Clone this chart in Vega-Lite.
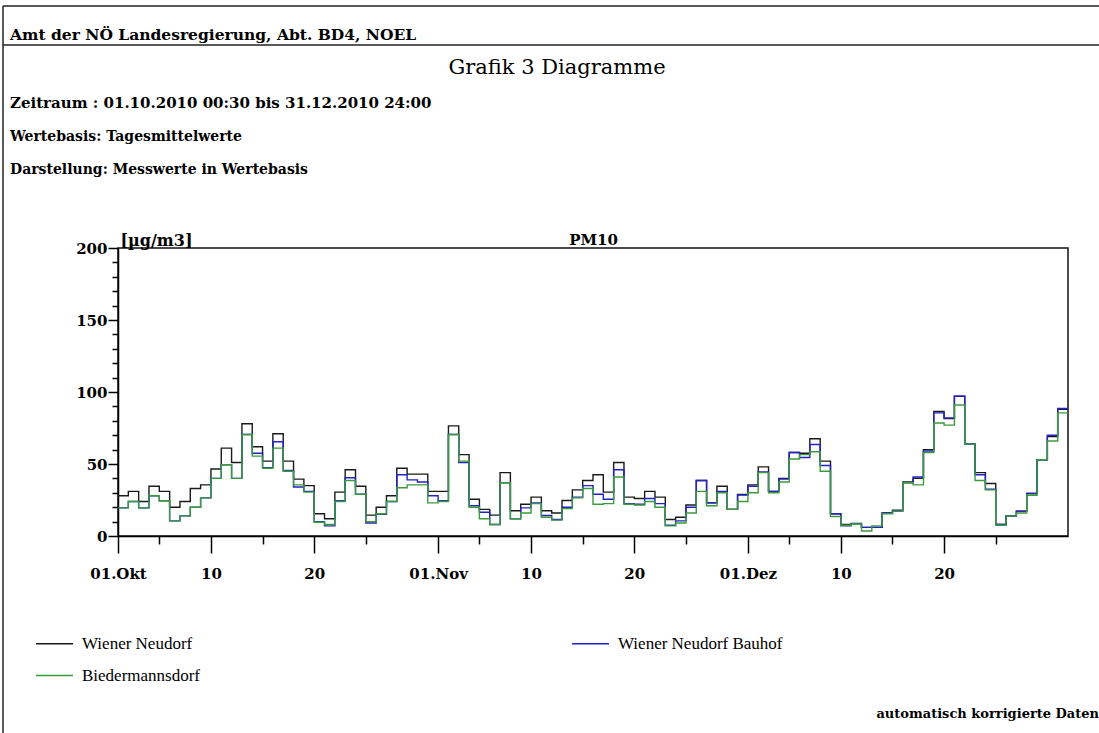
{
  "$schema": "https://vega.github.io/schema/vega-lite/v6.json",
  "width": 950,
  "height": 288,
  "autosize": {"type": "none"},
  "padding": {"left": 118, "top": 248, "right": 31, "bottom": 197},
  "background": "white",
  "config": {
    "view": {"stroke": "#111111", "strokeWidth": 1.5},
    "font": "DejaVu Serif",
    "axis": {"grid": false, "labelColor": "black", "titleColor": "black", "tickColor": "black", "domainColor": "black"}
  },
  "layer": [
    {
      "data": {"values": [{}]},
      "mark": {"type": "rule", "color": "#222222", "strokeWidth": 1.5},
      "encoding": {"x": {"value": -115}, "x2": {"value": 981}, "y": {"value": -242}}
    },
    {
      "data": {"values": [{}]},
      "mark": {"type": "rule", "color": "#222222", "strokeWidth": 1.5},
      "encoding": {"x": {"value": -115}, "y": {"value": -242}, "y2": {"value": 485}}
    },
    {
      "data": {"values": [{}]},
      "mark": {"type": "rule", "color": "#222222", "strokeWidth": 1.5},
      "encoding": {"x": {"value": -115}, "x2": {"value": 981}, "y": {"value": -203}}
    },
    {
      "data": {"values": [{}]},
      "mark": {"type": "text", "text": "Amt der NÖ Landesregierung, Abt. BD4, NOEL", "x": -108, "y": -208, "align": "left", "baseline": "alphabetic", "font": "DejaVu Serif", "fontSize": 15.5, "fontWeight": "bold", "color": "black"},
      "encoding": {}
    },
    {
      "data": {"values": [{}]},
      "mark": {"type": "text", "text": "Grafik 3 Diagramme", "x": 439, "y": -174, "align": "center", "baseline": "alphabetic", "font": "DejaVu Serif", "fontSize": 21, "color": "black"},
      "encoding": {}
    },
    {
      "data": {"values": [{}]},
      "mark": {"type": "text", "text": "Zeitraum  : 01.10.2010 00:30 bis 31.12.2010 24:00", "x": -108, "y": -140, "align": "left", "baseline": "alphabetic", "font": "DejaVu Serif", "fontSize": 15, "fontWeight": "bold", "color": "black"},
      "encoding": {}
    },
    {
      "data": {"values": [{}]},
      "mark": {"type": "text", "text": "Wertebasis: Tagesmittelwerte", "x": -108, "y": -107, "align": "left", "baseline": "alphabetic", "font": "DejaVu Serif", "fontSize": 14, "fontWeight": "bold", "color": "black"},
      "encoding": {}
    },
    {
      "data": {"values": [{}]},
      "mark": {"type": "text", "text": "Darstellung: Messwerte in Wertebasis", "x": -108, "y": -74, "align": "left", "baseline": "alphabetic", "font": "DejaVu Serif", "fontSize": 14, "fontWeight": "bold", "color": "black"},
      "encoding": {}
    },
    {
      "data": {"values": [{}]},
      "mark": {"type": "text", "text": "automatisch korrigierte Daten", "x": 981, "y": 470, "align": "right", "baseline": "alphabetic", "font": "DejaVu Serif", "fontSize": 13, "fontWeight": "bold", "color": "black"},
      "encoding": {}
    },
    {
      "data": {
        "format": {"parse": {"von": "utc:'%Y-%m-%d'", "bis": "utc:'%Y-%m-%d'"}},
        "values": [
          {"von": "2010-10-01", "bis": "2010-10-02", "Wiener Neudorf": 28, "Wiener Neudorf Bauhof": 19.5, "Biedermannsdorf": 19.5},
          {"von": "2010-10-02", "bis": "2010-10-03", "Wiener Neudorf": 31, "Wiener Neudorf Bauhof": 24, "Biedermannsdorf": 24},
          {"von": "2010-10-03", "bis": "2010-10-04", "Wiener Neudorf": 24, "Wiener Neudorf Bauhof": 19.5, "Biedermannsdorf": 19.5},
          {"von": "2010-10-04", "bis": "2010-10-05", "Wiener Neudorf": 34.5, "Wiener Neudorf Bauhof": 28, "Biedermannsdorf": 28},
          {"von": "2010-10-05", "bis": "2010-10-06", "Wiener Neudorf": 31, "Wiener Neudorf Bauhof": 24.5, "Biedermannsdorf": 24.5},
          {"von": "2010-10-06", "bis": "2010-10-07", "Wiener Neudorf": 20, "Wiener Neudorf Bauhof": 10.5, "Biedermannsdorf": 10.5},
          {"von": "2010-10-07", "bis": "2010-10-08", "Wiener Neudorf": 24, "Wiener Neudorf Bauhof": 14, "Biedermannsdorf": 14},
          {"von": "2010-10-08", "bis": "2010-10-09", "Wiener Neudorf": 33, "Wiener Neudorf Bauhof": 20, "Biedermannsdorf": 20},
          {"von": "2010-10-09", "bis": "2010-10-10", "Wiener Neudorf": 35.5, "Wiener Neudorf Bauhof": 26.5, "Biedermannsdorf": 26.5},
          {"von": "2010-10-10", "bis": "2010-10-11", "Wiener Neudorf": 46.5, "Wiener Neudorf Bauhof": 40, "Biedermannsdorf": 40},
          {"von": "2010-10-11", "bis": "2010-10-12", "Wiener Neudorf": 61, "Wiener Neudorf Bauhof": 49.5, "Biedermannsdorf": 49.5},
          {"von": "2010-10-12", "bis": "2010-10-13", "Wiener Neudorf": 51, "Wiener Neudorf Bauhof": 40, "Biedermannsdorf": 40},
          {"von": "2010-10-13", "bis": "2010-10-14", "Wiener Neudorf": 78, "Wiener Neudorf Bauhof": 70.5, "Biedermannsdorf": 70.5},
          {"von": "2010-10-14", "bis": "2010-10-15", "Wiener Neudorf": 62, "Wiener Neudorf Bauhof": 57.5, "Biedermannsdorf": 55.5},
          {"von": "2010-10-15", "bis": "2010-10-16", "Wiener Neudorf": 52, "Wiener Neudorf Bauhof": 47.5, "Biedermannsdorf": 47},
          {"von": "2010-10-16", "bis": "2010-10-17", "Wiener Neudorf": 71, "Wiener Neudorf Bauhof": 65.5, "Biedermannsdorf": 61},
          {"von": "2010-10-17", "bis": "2010-10-18", "Wiener Neudorf": 52, "Wiener Neudorf Bauhof": 45.5, "Biedermannsdorf": 45},
          {"von": "2010-10-18", "bis": "2010-10-19", "Wiener Neudorf": 39.5, "Wiener Neudorf Bauhof": 34, "Biedermannsdorf": 35.5},
          {"von": "2010-10-19", "bis": "2010-10-20", "Wiener Neudorf": 35, "Wiener Neudorf Bauhof": 31, "Biedermannsdorf": 30.5},
          {"von": "2010-10-20", "bis": "2010-10-21", "Wiener Neudorf": 15.5, "Wiener Neudorf Bauhof": 10, "Biedermannsdorf": 9.5},
          {"von": "2010-10-21", "bis": "2010-10-22", "Wiener Neudorf": 12, "Wiener Neudorf Bauhof": 7, "Biedermannsdorf": 8},
          {"von": "2010-10-22", "bis": "2010-10-23", "Wiener Neudorf": 30.5, "Wiener Neudorf Bauhof": 24.5, "Biedermannsdorf": 24},
          {"von": "2010-10-23", "bis": "2010-10-24", "Wiener Neudorf": 46, "Wiener Neudorf Bauhof": 40.5, "Biedermannsdorf": 38.5},
          {"von": "2010-10-24", "bis": "2010-10-25", "Wiener Neudorf": 34.5, "Wiener Neudorf Bauhof": 29, "Biedermannsdorf": 29},
          {"von": "2010-10-25", "bis": "2010-10-26", "Wiener Neudorf": 14.5, "Wiener Neudorf Bauhof": 9, "Biedermannsdorf": 10},
          {"von": "2010-10-26", "bis": "2010-10-27", "Wiener Neudorf": 20, "Wiener Neudorf Bauhof": 15, "Biedermannsdorf": 15.5},
          {"von": "2010-10-27", "bis": "2010-10-28", "Wiener Neudorf": 28, "Wiener Neudorf Bauhof": 24, "Biedermannsdorf": 24},
          {"von": "2010-10-28", "bis": "2010-10-29", "Wiener Neudorf": 47, "Wiener Neudorf Bauhof": 42.5, "Biedermannsdorf": 33.5},
          {"von": "2010-10-29", "bis": "2010-10-30", "Wiener Neudorf": 43, "Wiener Neudorf Bauhof": 39, "Biedermannsdorf": 35.5},
          {"von": "2010-10-30", "bis": "2010-10-31", "Wiener Neudorf": 43, "Wiener Neudorf Bauhof": 37.5, "Biedermannsdorf": 35.5},
          {"von": "2010-10-31", "bis": "2010-11-01", "Wiener Neudorf": 31, "Wiener Neudorf Bauhof": 28, "Biedermannsdorf": 23},
          {"von": "2010-11-01", "bis": "2010-11-02", "Wiener Neudorf": 31, "Wiener Neudorf Bauhof": 24.5, "Biedermannsdorf": 24},
          {"von": "2010-11-02", "bis": "2010-11-03", "Wiener Neudorf": 76.5, "Wiener Neudorf Bauhof": 70.5, "Biedermannsdorf": 70.5},
          {"von": "2010-11-03", "bis": "2010-11-04", "Wiener Neudorf": 56.5, "Wiener Neudorf Bauhof": 51, "Biedermannsdorf": 52},
          {"von": "2010-11-04", "bis": "2010-11-05", "Wiener Neudorf": 25.5, "Wiener Neudorf Bauhof": 21, "Biedermannsdorf": 20},
          {"von": "2010-11-05", "bis": "2010-11-06", "Wiener Neudorf": 18.5, "Wiener Neudorf Bauhof": 16.5, "Biedermannsdorf": 12},
          {"von": "2010-11-06", "bis": "2010-11-07", "Wiener Neudorf": 14.5, "Wiener Neudorf Bauhof": 8, "Biedermannsdorf": 8},
          {"von": "2010-11-07", "bis": "2010-11-08", "Wiener Neudorf": 44, "Wiener Neudorf Bauhof": 37, "Biedermannsdorf": 37},
          {"von": "2010-11-08", "bis": "2010-11-09", "Wiener Neudorf": 17.5, "Wiener Neudorf Bauhof": 12, "Biedermannsdorf": 12},
          {"von": "2010-11-09", "bis": "2010-11-10", "Wiener Neudorf": 22, "Wiener Neudorf Bauhof": 19.5, "Biedermannsdorf": 16},
          {"von": "2010-11-10", "bis": "2010-11-11", "Wiener Neudorf": 27, "Wiener Neudorf Bauhof": 23, "Biedermannsdorf": 22.5},
          {"von": "2010-11-11", "bis": "2010-11-12", "Wiener Neudorf": 17.5, "Wiener Neudorf Bauhof": 14.2, "Biedermannsdorf": 13},
          {"von": "2010-11-12", "bis": "2010-11-13", "Wiener Neudorf": 16, "Wiener Neudorf Bauhof": 11.5, "Biedermannsdorf": 11},
          {"von": "2010-11-13", "bis": "2010-11-14", "Wiener Neudorf": 24.7, "Wiener Neudorf Bauhof": 20, "Biedermannsdorf": 19},
          {"von": "2010-11-14", "bis": "2010-11-15", "Wiener Neudorf": 32, "Wiener Neudorf Bauhof": 27, "Biedermannsdorf": 26.5},
          {"von": "2010-11-15", "bis": "2010-11-16", "Wiener Neudorf": 38.5, "Wiener Neudorf Bauhof": 35, "Biedermannsdorf": 33},
          {"von": "2010-11-16", "bis": "2010-11-17", "Wiener Neudorf": 42.5, "Wiener Neudorf Bauhof": 29, "Biedermannsdorf": 22},
          {"von": "2010-11-17", "bis": "2010-11-18", "Wiener Neudorf": 30.5, "Wiener Neudorf Bauhof": 25.5, "Biedermannsdorf": 22.5},
          {"von": "2010-11-18", "bis": "2010-11-19", "Wiener Neudorf": 51, "Wiener Neudorf Bauhof": 46, "Biedermannsdorf": 41},
          {"von": "2010-11-19", "bis": "2010-11-20", "Wiener Neudorf": 27, "Wiener Neudorf Bauhof": 22.5, "Biedermannsdorf": 22},
          {"von": "2010-11-20", "bis": "2010-11-21", "Wiener Neudorf": 26, "Wiener Neudorf Bauhof": 22, "Biedermannsdorf": 21.5},
          {"von": "2010-11-21", "bis": "2010-11-22", "Wiener Neudorf": 31, "Wiener Neudorf Bauhof": 26, "Biedermannsdorf": 24},
          {"von": "2010-11-22", "bis": "2010-11-23", "Wiener Neudorf": 27, "Wiener Neudorf Bauhof": 22.5, "Biedermannsdorf": 20},
          {"von": "2010-11-23", "bis": "2010-11-24", "Wiener Neudorf": 11.5, "Wiener Neudorf Bauhof": 7.5, "Biedermannsdorf": 7},
          {"von": "2010-11-24", "bis": "2010-11-25", "Wiener Neudorf": 13, "Wiener Neudorf Bauhof": 10.5, "Biedermannsdorf": 9},
          {"von": "2010-11-25", "bis": "2010-11-26", "Wiener Neudorf": 21.5, "Wiener Neudorf Bauhof": 20, "Biedermannsdorf": 16},
          {"von": "2010-11-26", "bis": "2010-11-27", "Wiener Neudorf": 38.5, "Wiener Neudorf Bauhof": 38.5, "Biedermannsdorf": 31},
          {"von": "2010-11-27", "bis": "2010-11-28", "Wiener Neudorf": 23, "Wiener Neudorf Bauhof": 23, "Biedermannsdorf": 21},
          {"von": "2010-11-28", "bis": "2010-11-29", "Wiener Neudorf": 34.5, "Wiener Neudorf Bauhof": 31, "Biedermannsdorf": 30},
          {"von": "2010-11-29", "bis": "2010-11-30", "Wiener Neudorf": 18.5, "Wiener Neudorf Bauhof": 18.5, "Biedermannsdorf": 18.5},
          {"von": "2010-11-30", "bis": "2010-12-01", "Wiener Neudorf": 28.8, "Wiener Neudorf Bauhof": 28.5, "Biedermannsdorf": 24},
          {"von": "2010-12-01", "bis": "2010-12-02", "Wiener Neudorf": 35.5, "Wiener Neudorf Bauhof": 34.5, "Biedermannsdorf": 30},
          {"von": "2010-12-02", "bis": "2010-12-03", "Wiener Neudorf": 48, "Wiener Neudorf Bauhof": 44.5, "Biedermannsdorf": 44},
          {"von": "2010-12-03", "bis": "2010-12-04", "Wiener Neudorf": 31, "Wiener Neudorf Bauhof": 31, "Biedermannsdorf": 30},
          {"von": "2010-12-04", "bis": "2010-12-05", "Wiener Neudorf": 40, "Wiener Neudorf Bauhof": 39.5, "Biedermannsdorf": 37.5},
          {"von": "2010-12-05", "bis": "2010-12-06", "Wiener Neudorf": 58, "Wiener Neudorf Bauhof": 58, "Biedermannsdorf": 53.5},
          {"von": "2010-12-06", "bis": "2010-12-07", "Wiener Neudorf": 57.5, "Wiener Neudorf Bauhof": 54.5, "Biedermannsdorf": 56.5},
          {"von": "2010-12-07", "bis": "2010-12-08", "Wiener Neudorf": 67.5, "Wiener Neudorf Bauhof": 63.5, "Biedermannsdorf": 58.5},
          {"von": "2010-12-08", "bis": "2010-12-09", "Wiener Neudorf": 52, "Wiener Neudorf Bauhof": 49, "Biedermannsdorf": 45},
          {"von": "2010-12-09", "bis": "2010-12-10", "Wiener Neudorf": 15.5, "Wiener Neudorf Bauhof": 15.5, "Biedermannsdorf": 13.5},
          {"von": "2010-12-10", "bis": "2010-12-11", "Wiener Neudorf": 8, "Wiener Neudorf Bauhof": 7, "Biedermannsdorf": 7.5},
          {"von": "2010-12-11", "bis": "2010-12-12", "Wiener Neudorf": 8.8, "Wiener Neudorf Bauhof": 8.5, "Biedermannsdorf": 8.3},
          {"von": "2010-12-12", "bis": "2010-12-13", "Wiener Neudorf": 6, "Wiener Neudorf Bauhof": 6, "Biedermannsdorf": 3.5},
          {"von": "2010-12-13", "bis": "2010-12-14", "Wiener Neudorf": 6, "Wiener Neudorf Bauhof": 6, "Biedermannsdorf": 7},
          {"von": "2010-12-14", "bis": "2010-12-15", "Wiener Neudorf": 16, "Wiener Neudorf Bauhof": 16, "Biedermannsdorf": 15.5},
          {"von": "2010-12-15", "bis": "2010-12-16", "Wiener Neudorf": 18, "Wiener Neudorf Bauhof": 17.3, "Biedermannsdorf": 17.3},
          {"von": "2010-12-16", "bis": "2010-12-17", "Wiener Neudorf": 37.5, "Wiener Neudorf Bauhof": 37, "Biedermannsdorf": 37},
          {"von": "2010-12-17", "bis": "2010-12-18", "Wiener Neudorf": 40, "Wiener Neudorf Bauhof": 41, "Biedermannsdorf": 35.5},
          {"von": "2010-12-18", "bis": "2010-12-19", "Wiener Neudorf": 60, "Wiener Neudorf Bauhof": 59, "Biedermannsdorf": 58},
          {"von": "2010-12-19", "bis": "2010-12-20", "Wiener Neudorf": 86.5, "Wiener Neudorf Bauhof": 85.5, "Biedermannsdorf": 78.5},
          {"von": "2010-12-20", "bis": "2010-12-21", "Wiener Neudorf": 81.5, "Wiener Neudorf Bauhof": 82, "Biedermannsdorf": 77},
          {"von": "2010-12-21", "bis": "2010-12-22", "Wiener Neudorf": 97, "Wiener Neudorf Bauhof": 97, "Biedermannsdorf": 91},
          {"von": "2010-12-22", "bis": "2010-12-23", "Wiener Neudorf": 64, "Wiener Neudorf Bauhof": 64, "Biedermannsdorf": 64},
          {"von": "2010-12-23", "bis": "2010-12-24", "Wiener Neudorf": 44, "Wiener Neudorf Bauhof": 42.5, "Biedermannsdorf": 38.5},
          {"von": "2010-12-24", "bis": "2010-12-25", "Wiener Neudorf": 36.5, "Wiener Neudorf Bauhof": 32.5, "Biedermannsdorf": 32},
          {"von": "2010-12-25", "bis": "2010-12-26", "Wiener Neudorf": 8, "Wiener Neudorf Bauhof": 8, "Biedermannsdorf": 7.5},
          {"von": "2010-12-26", "bis": "2010-12-27", "Wiener Neudorf": 14, "Wiener Neudorf Bauhof": 14, "Biedermannsdorf": 14},
          {"von": "2010-12-27", "bis": "2010-12-28", "Wiener Neudorf": 17.3, "Wiener Neudorf Bauhof": 17.3, "Biedermannsdorf": 16},
          {"von": "2010-12-28", "bis": "2010-12-29", "Wiener Neudorf": 29.5, "Wiener Neudorf Bauhof": 29.5, "Biedermannsdorf": 28.3},
          {"von": "2010-12-29", "bis": "2010-12-30", "Wiener Neudorf": 53, "Wiener Neudorf Bauhof": 53, "Biedermannsdorf": 53},
          {"von": "2010-12-30", "bis": "2010-12-31", "Wiener Neudorf": 69, "Wiener Neudorf Bauhof": 70, "Biedermannsdorf": 66},
          {"von": "2010-12-31", "bis": "2011-01-01", "Wiener Neudorf": 88, "Wiener Neudorf Bauhof": 88.5, "Biedermannsdorf": 85.5}
        ]
      },
      "transform": [
        {"fold": ["Wiener Neudorf", "Wiener Neudorf Bauhof", "Biedermannsdorf"], "as": ["station", "wert"]},
        {"fold": ["von", "bis"], "as": ["grenze", "zeit"]}
      ],
      "mark": {"type": "line", "strokeWidth": 1.4, "interpolate": "linear"},
      "encoding": {
        "x": {
          "field": "zeit",
          "type": "temporal",
          "scale": {
            "type": "utc",
            "domain": [
              {"year": 2010, "month": 10, "date": 1, "utc": true},
              {"year": 2011, "month": 1, "date": 1, "utc": true}
            ]
          },
          "axis": {
            "values": [
              {"year": 2010, "month": 10, "date": 1, "utc": true},
              {"year": 2010, "month": 10, "date": 5, "utc": true},
              {"year": 2010, "month": 10, "date": 10, "utc": true},
              {"year": 2010, "month": 10, "date": 15, "utc": true},
              {"year": 2010, "month": 10, "date": 20, "utc": true},
              {"year": 2010, "month": 10, "date": 25, "utc": true},
              {"year": 2010, "month": 11, "date": 1, "utc": true},
              {"year": 2010, "month": 11, "date": 5, "utc": true},
              {"year": 2010, "month": 11, "date": 10, "utc": true},
              {"year": 2010, "month": 11, "date": 15, "utc": true},
              {"year": 2010, "month": 11, "date": 20, "utc": true},
              {"year": 2010, "month": 11, "date": 25, "utc": true},
              {"year": 2010, "month": 12, "date": 1, "utc": true},
              {"year": 2010, "month": 12, "date": 5, "utc": true},
              {"year": 2010, "month": 12, "date": 10, "utc": true},
              {"year": 2010, "month": 12, "date": 15, "utc": true},
              {"year": 2010, "month": 12, "date": 20, "utc": true},
              {"year": 2010, "month": 12, "date": 25, "utc": true}
            ],
            "labelExpr": "utcdate(datum.value) == 1 ? '01.' + ['Jan','Feb','Mär','Apr','Mai','Jun','Jul','Aug','Sep','Okt','Nov','Dez'][utcmonth(datum.value)] : (utcdate(datum.value) % 10 == 0 ? '' + utcdate(datum.value) : '')",
            "tickSize": {"condition": {"test": "utcdate(datum.value) % 5 == 0 && utcdate(datum.value) % 10 != 0", "value": 8}, "value": 17},
            "tickWidth": 1.5,
            "domainWidth": 1.5,
            "labelPadding": 13,
            "labelFont": "DejaVu Serif",
            "labelFontWeight": "bold",
            "labelFontSize": 15,
            "labelAlign": "center",
            "labelFlush": false,
            "labelOverlap": false,
            "title": "PM10",
            "titleX": 475,
            "titleY": -292,
            "titleAlign": "center",
            "titleBaseline": "alphabetic",
            "titleFont": "DejaVu Serif",
            "titleFontWeight": "bold",
            "titleFontSize": 15
          }
        },
        "y": {
          "field": "wert",
          "type": "quantitative",
          "scale": {"domain": [0, 200], "nice": false},
          "axis": {
            "values": [0, 10, 20, 30, 40, 50, 60, 70, 80, 90, 100, 110, 120, 130, 140, 150, 160, 170, 180, 190, 200],
            "labelExpr": "datum.value % 50 == 0 ? datum.label : ''",
            "tickSize": {"condition": {"test": "datum.value % 50 == 0", "value": 10}, "value": 6},
            "tickWidth": 1.5,
            "domainWidth": 1.5,
            "labelPadding": 1,
            "labelFont": "DejaVu Serif",
            "labelFontWeight": "bold",
            "labelFontSize": 15,
            "labelBaseline": "middle",
            "labelFlush": false,
            "labelOverlap": false,
            "title": "[µg/m3]",
            "titleAngle": 0,
            "titleX": 2,
            "titleY": -3,
            "titleAlign": "left",
            "titleBaseline": "alphabetic",
            "titleFont": "DejaVu Serif",
            "titleFontWeight": "bold",
            "titleFontSize": 16
          }
        },
        "color": {
          "field": "station",
          "type": "nominal",
          "scale": {
            "domain": ["Wiener Neudorf", "Wiener Neudorf Bauhof", "Biedermannsdorf"],
            "range": ["#1a1a1a", "#2222c8", "#3b9b3b"]
          },
          "legend": {
            "orient": "none",
            "legendX": -83,
            "legendY": 376,
            "direction": "horizontal",
            "title": null,
            "columns": 2,
            "columnPadding": 368,
            "rowPadding": 4,
            "symbolType": "stroke",
            "symbolSize": 1369,
            "symbolStrokeWidth": 1.5,
            "labelFont": "Liberation Serif",
            "labelFontSize": 17,
            "labelLimit": 400,
            "labelColor": "black",
            "labelOffset": 8
          }
        },
        "order": [
          {"field": "zeit", "type": "temporal"},
          {"field": "grenze", "type": "nominal"}
        ]
      }
    }
  ]
}
